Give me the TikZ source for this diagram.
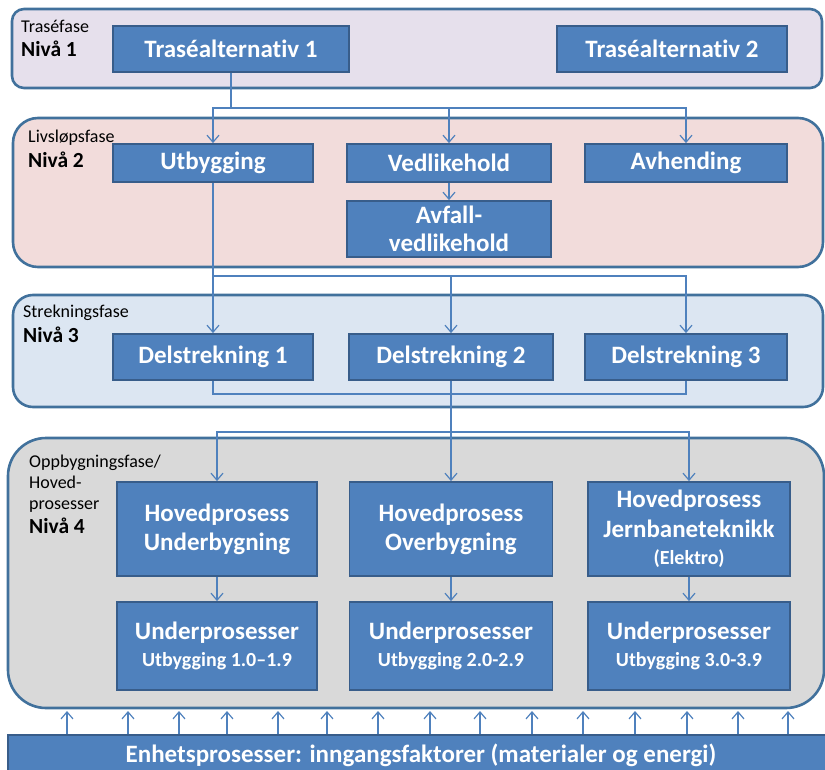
\documentclass[tikz,border=0pt]{standalone}
\usepackage{fontspec}
\setmainfont{Carlito}[Ligatures=NoCommon]
\usetikzlibrary{arrows.meta,calc}
\definecolor{boxfill}{HTML}{4F81BD}
\definecolor{boxedge}{HTML}{385D8A}
\definecolor{panedge}{HTML}{41719C}
\definecolor{linkcol}{HTML}{4F81BD}
\definecolor{fillA}{HTML}{E6E0EC}
\definecolor{fillB}{HTML}{F2DCDB}
\definecolor{fillC}{HTML}{DCE6F2}
\definecolor{fillD}{HTML}{D9D9D9}
\newcommand{\subline}[1]{{\fontsize{20}{24}\selectfont #1}}
\begin{document}
\begin{tikzpicture}[x=1pt,y=-1pt,
  panel/.style={draw=panedge, line width=2.6pt, inner sep=0pt},
  procbox/.style={draw=boxedge, fill=boxfill, line width=1.8pt, text=white,
    inner sep=0pt, align=center, font=\bfseries\fontsize{25}{29}\selectfont},
  wh/.style 2 args={minimum width=#1pt, minimum height=#2pt},
  phase/.style={anchor=base west, inner sep=0pt, font=\fontsize{18}{21}\selectfont},
  level/.style={anchor=base west, inner sep=0pt, font=\bfseries\fontsize{21.5}{24}\selectfont},
  link/.style={draw=linkcol, line width=1.2pt},
  >={Straight Barb[length=7pt,width=12pt]}
]
\useasboundingbox (0,0) rectangle (825,770);

% phase panels
\node[panel, fill=fillA, rounded corners=12pt, wh={810}{79}]  (p1) at (417,48.5) {};
\node[panel, fill=fillB, rounded corners=25pt, wh={810}{149}] (p2) at (418,192.5) {};
\node[panel, fill=fillC, rounded corners=20pt, wh={810}{112}] (p3) at (418,351) {};
\node[panel, fill=fillD, rounded corners=38pt, wh={816}{270}] (p4) at (416,573) {};

% panel captions
\node[phase] (c1) at (21,33) {Traséfase};
\node[level] (n1) at (21,57) {Nivå 1};
\node[phase] (c2) at (28,143) {Livsløpsfase};
\node[level] (n2) at (28,168) {Nivå 2};
\node[phase] (c3) at (23,317) {Strekningsfase};
\node[level] (n3) at (23,342) {Nivå 3};
\node[phase] (c4a) at (29,467) {Oppbygningsfase/};
\node[phase] (c4b) at (29,488) {Hoved-};
\node[phase] (c4c) at (29,509) {prosesser};
\node[level] (n4) at (29,533) {Nivå 4};

% level 1
\node[procbox, wh={236}{46}] (ta1) at (231,49) {Traséalternativ 1};
\node[procbox, wh={230}{46}] (ta2) at (672,49) {Traséalternativ 2};

% level 2
\node[procbox, wh={200}{38}] (utb) at (213,163) {\raisebox{-1.5pt}{Utbygging}};
\node[procbox, wh={204}{38}] (ved) at (449,163) {\raisebox{-1.5pt}{Vedlikehold}};
\node[procbox, wh={202}{38}] (avh) at (686,163) {\raisebox{-1.5pt}{Avhending}};
\node[procbox, wh={204}{56}] (avf) at (449,229) {Avfall-\\[-1pt]vedlikehold};

% level 3
\node[procbox, wh={200}{46}] (ds1) at (213,357) {Delstrekning 1};
\node[procbox, wh={204}{46}] (ds2) at (451,357) {Delstrekning 2};
\node[procbox, wh={202}{46}] (ds3) at (686,357) {Delstrekning 3};

% level 4
\node[procbox, wh={200}{94}] (hp1) at (217,529) {Hovedprosess\\Underbygning};
\node[procbox, wh={203}{94}] (hp2) at (451,529) {Hovedprosess\\Overbygning};
\node[procbox, wh={202}{94}] (hp3) at (689,529) {Hovedprosess\\[1pt]Jernbaneteknikk\\[-2pt]\subline{(Elektro)}};
\node[procbox, wh={200}{88}] (up1) at (217,646) {Underprosesser\\[-2pt]\subline{Utbygging 1.0–1.9}};
\node[procbox, wh={203}{88}] (up2) at (451,646) {Underprosesser\\[-2pt]\subline{Utbygging 2.0-2.9}};
\node[procbox, wh={202}{88}] (up3) at (689,646) {Underprosesser\\[-2pt]\subline{Utbygging 3.0-3.9}};

% input bar
\node[procbox, wh={826}{40}] (enh) at (421,755) {Enhetsprosesser: inngangsfaktorer (materialer og energi)};

% bus lines
\coordinate (b1) at (0,108);
\coordinate (b2) at (0,276);
\coordinate (b3) at (0,394);
\coordinate (b4) at (0,432);

\draw[link] (ta1.south) -- (ta1.south |- b1);
\draw[link,->] (ta1.south |- b1) -| (utb.north);
\draw[link,->] (ta1.south |- b1) -| (ved.north);
\draw[link,->] (ta1.south |- b1) -| (avh.north);
\draw[link,->] (ved.south) -- (avf.north);

\draw[link,->] (utb.south) -- (ds1.north);
\draw[link,->] (utb.south |- b2) -| (ds2.north);
\draw[link,->] (utb.south |- b2) -| (ds3.north);

\draw[link] (ds1.south) |- (ds2.south |- b3);
\draw[link] (ds3.south) |- (ds2.south |- b3);
\draw[link] (ds2.south) -- (ds2.south |- b4);
\draw[link,->] (ds2.south |- b4) -| (hp1.north);
\draw[link,->] (ds2.south |- b4) -- (hp2.north);
\draw[link,->] (ds2.south |- b4) -| (hp3.north);

\draw[link,->] (hp1.south) -- (up1.north);
\draw[link,->] (hp2.south) -- (up2.north);
\draw[link,->] (hp3.south) -- (up3.north);

% inputs rising from the bar
\foreach \x in {67,128,179,227,278,327,378,430,480,532,583,635,687,738,788}{
  \coordinate (ax) at (\x,711);
  \draw[link,->] (enh.north -| ax) -- (ax);
}
\end{tikzpicture}
\end{document}
